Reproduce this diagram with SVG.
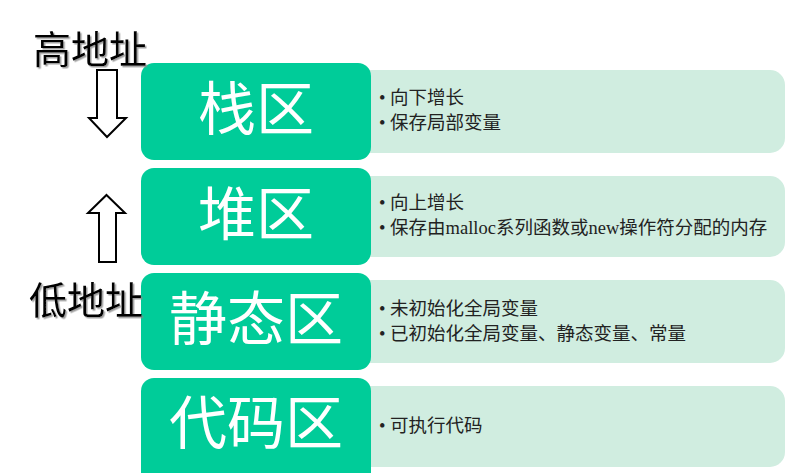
<svg xmlns="http://www.w3.org/2000/svg" width="801" height="473" viewBox="0 0 801 473">
<defs>
<style>
.light{fill:#D0EDE0}
.green{fill:#00CC99}
.big{font-family:"Noto Sans CJK SC","Noto Sans CJK JP",sans-serif;font-size:58px;fill:#ffffff;text-anchor:middle}
.item{font-family:"Liberation Serif","Noto Sans CJK SC",serif;font-size:18.5px;fill:#222222}
.addr{font-family:"Noto Sans CJK SC","Noto Sans CJK JP",sans-serif;font-size:38px;fill:#000000}
.arrow{fill:#ffffff;stroke:#000000;stroke-width:2;stroke-linejoin:miter}
</style>
<filter id="sh" x="-10%" y="-10%" width="130%" height="140%">
<feDropShadow dx="1.5" dy="1.5" stdDeviation="0.6" flood-color="#888888" flood-opacity="0.8"/>
</filter>
</defs>
<rect width="801" height="473" fill="#ffffff"/>
<g id="stack">
<rect class="light" x="340" y="70" width="445" height="83" rx="15"/>
<rect class="green" x="141" y="63" width="230" height="97" rx="13"/>
<text class="big" x="256" y="130">栈区</text>
<text class="item" x="379" y="104">• 向下增长</text>
<text class="item" x="379" y="129">• 保存局部变量</text>
</g>
<g id="heap">
<rect class="light" x="340" y="176" width="445" height="81" rx="15"/>
<rect class="green" x="141" y="168" width="230" height="97" rx="13"/>
<text class="big" x="256" y="235">堆区</text>
<text class="item" x="379" y="209">• 向上增长</text>
<text class="item" x="379" y="234">• 保存由malloc系列函数或new操作符分配的内存</text>
</g>
<g id="static">
<rect class="light" x="340" y="280" width="445" height="83" rx="15"/>
<rect class="green" x="141" y="273" width="230" height="97" rx="13"/>
<text class="big" x="256" y="340">静态区</text>
<text class="item" x="379" y="315">• 未初始化全局变量</text>
<text class="item" x="379" y="340">• 已初始化全局变量、静态变量、常量</text>
</g>
<g id="code">
<rect class="light" x="340" y="386" width="445" height="81" rx="15"/>
<rect class="green" x="141" y="378" width="230" height="110" rx="13"/>
<text class="big" x="256" y="444">代码区</text>
<text class="item" x="379" y="432">• 可执行代码</text>
</g>
<g id="high-address">
<text class="addr" x="33" y="63" filter="url(#sh)">高地址</text>
</g>
<g id="low-address">
<text class="addr" x="29" y="314" filter="url(#sh)">低地址</text>
</g>
<g id="connectors">
<path class="arrow" d="M97,70 H117 V118 H126 L107,137 L89,118 H97 Z"/>
<path class="arrow" d="M106.5,195 L125,213 H116 V262 H99 V213 H88 Z"/>
</g>
</svg>
